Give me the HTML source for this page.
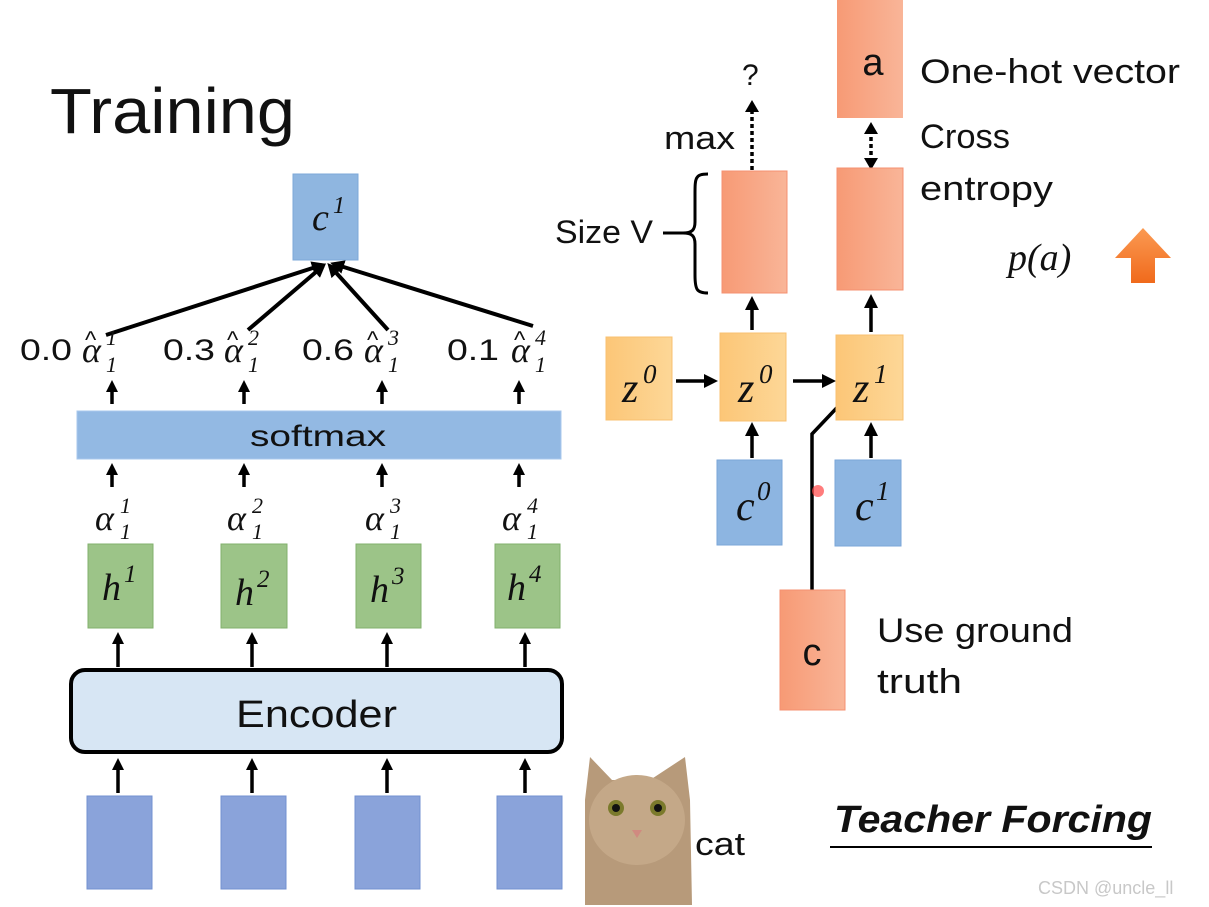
<!DOCTYPE html>
<html><head><meta charset="utf-8"><style>
html,body{margin:0;padding:0;background:#fff;}
svg{display:block;}
.s{font-family:"Liberation Sans",sans-serif;fill:#111;}
.m{font-family:"Liberation Serif",serif;font-style:italic;fill:#111;}
</style></head><body>
<svg width="1209" height="907" viewBox="0 0 1209 907" xmlns="http://www.w3.org/2000/svg">
<defs>
<marker id="ah" markerWidth="12" markerHeight="12" refX="8" refY="6" orient="auto" markerUnits="userSpaceOnUse"><path d="M0,0 L12,6 L0,12 z" fill="#000"/></marker>
<marker id="ab" markerWidth="14" markerHeight="14" refX="10" refY="7" orient="auto" markerUnits="userSpaceOnUse"><path d="M0,0 L14,7 L0,14 z" fill="#000"/></marker>
<linearGradient id="og" x1="0" x2="1"><stop offset="0" stop-color="#f79a75"/><stop offset="1" stop-color="#f9b598"/></linearGradient>
<linearGradient id="yg" x1="0" x2="1"><stop offset="0" stop-color="#fcc677"/><stop offset="1" stop-color="#fdd797"/></linearGradient>
<linearGradient id="ag" x1="0" y1="0" x2="0" y2="1"><stop offset="0" stop-color="#fb9a52"/><stop offset="1" stop-color="#f06a1c"/></linearGradient>
</defs>
<rect width="1209" height="907" fill="#fff"/>
<text x="50" y="133" class="s" font-size="64" textLength="245" lengthAdjust="spacingAndGlyphs">Training</text>

<rect x="293" y="174" width="65" height="86" fill="#8fb6e0" stroke="#7ea8d8"/>
<text x="312" y="230" class="m" font-size="38">c</text><text x="333" y="213" class="m" font-size="24">1</text>
<g stroke="#000" stroke-width="4" fill="none">
<line x1="106" y1="335" x2="322" y2="265" marker-end="url(#ab)"/>
<line x1="248" y1="330" x2="323" y2="266" marker-end="url(#ab)"/>
<line x1="388" y1="330" x2="330" y2="266" marker-end="url(#ab)"/>
<line x1="533" y1="326" x2="334" y2="264" marker-end="url(#ab)"/>
</g>
<g font-size="30">
<text x="20" y="360" class="s" textLength="52" lengthAdjust="spacingAndGlyphs">0.0</text><text x="163" y="360" class="s" textLength="52" lengthAdjust="spacingAndGlyphs">0.3</text><text x="302" y="360" class="s" textLength="52" lengthAdjust="spacingAndGlyphs">0.6</text><text x="447" y="360" class="s" textLength="52" lengthAdjust="spacingAndGlyphs">0.1</text>
</g>
<g class="m" font-size="36">
<text x="82" y="362">α</text><text x="224" y="362">α</text><text x="364" y="362">α</text><text x="511" y="362">α</text>
</g>
<g class="s" font-size="24">
<text x="85" y="348">^</text><text x="227" y="348">^</text><text x="367" y="348">^</text><text x="514" y="348">^</text>
</g>
<g class="m" font-size="22">
<text x="106" y="345">1</text><text x="106" y="372">1</text>
<text x="248" y="345">2</text><text x="248" y="372">1</text>
<text x="388" y="345">3</text><text x="388" y="372">1</text>
<text x="535" y="345">4</text><text x="535" y="372">1</text>
</g>
<g stroke="#000" stroke-width="3.5">
<line x1="112" y1="404" x2="112" y2="384" marker-end="url(#ah)"/>
<line x1="244" y1="404" x2="244" y2="384" marker-end="url(#ah)"/>
<line x1="382" y1="404" x2="382" y2="384" marker-end="url(#ah)"/>
<line x1="519" y1="404" x2="519" y2="384" marker-end="url(#ah)"/>
<line x1="112" y1="487" x2="112" y2="467" marker-end="url(#ah)"/>
<line x1="244" y1="487" x2="244" y2="467" marker-end="url(#ah)"/>
<line x1="382" y1="487" x2="382" y2="467" marker-end="url(#ah)"/>
<line x1="519" y1="487" x2="519" y2="467" marker-end="url(#ah)"/>
</g>
<rect x="77" y="411" width="484" height="48" fill="#93b9e3" stroke="#a8c8ec"/>
<text x="250" y="446" class="s" font-size="30" textLength="136" lengthAdjust="spacingAndGlyphs">softmax</text>

<g class="m" font-size="36">
<text x="95" y="530">α</text><text x="227" y="530">α</text><text x="365" y="530">α</text><text x="502" y="530">α</text>
</g>
<g class="m" font-size="22">
<text x="120" y="513">1</text><text x="120" y="539">1</text>
<text x="252" y="513">2</text><text x="252" y="539">1</text>
<text x="390" y="513">3</text><text x="390" y="539">1</text>
<text x="527" y="513">4</text><text x="527" y="539">1</text>
</g>
<g fill="#9cc488" stroke="#82b06c">
<rect x="88" y="544" width="65" height="84"/><rect x="221" y="544" width="66" height="84"/>
<rect x="356" y="544" width="65" height="84"/><rect x="495" y="544" width="65" height="84"/>
</g>
<g class="m" font-size="38">
<text x="102" y="600">h</text><text x="235" y="605">h</text><text x="370" y="602">h</text><text x="507" y="600">h</text>
</g>
<g class="m" font-size="25">
<text x="124" y="582">1</text><text x="257" y="587">2</text><text x="392" y="584">3</text><text x="529" y="582">4</text>
</g>
<g stroke="#000" stroke-width="3.5">
<line x1="118" y1="667" x2="118" y2="636" marker-end="url(#ah)"/>
<line x1="252" y1="667" x2="252" y2="636" marker-end="url(#ah)"/>
<line x1="387" y1="667" x2="387" y2="636" marker-end="url(#ah)"/>
<line x1="525" y1="667" x2="525" y2="636" marker-end="url(#ah)"/>
<line x1="118" y1="793" x2="118" y2="762" marker-end="url(#ah)"/>
<line x1="252" y1="793" x2="252" y2="762" marker-end="url(#ah)"/>
<line x1="387" y1="793" x2="387" y2="762" marker-end="url(#ah)"/>
<line x1="525" y1="793" x2="525" y2="762" marker-end="url(#ah)"/>
</g>
<rect x="71" y="670" width="491" height="82" rx="14" fill="#d7e6f4" stroke="#000" stroke-width="4"/>
<text x="236" y="727" class="s" font-size="38" textLength="161" lengthAdjust="spacingAndGlyphs">Encoder</text>
<g fill="#8aa3da" stroke="#7390d0">
<rect x="87" y="796" width="65" height="93"/><rect x="221" y="796" width="65" height="93"/>
<rect x="355" y="796" width="65" height="93"/><rect x="497" y="796" width="65" height="93"/>
</g>
<path d="M585,905 L585,800 L590,757 L612,780 L650,780 L685,757 L690,800 L692,905 z" fill="#b79a7a"/>
<ellipse cx="637" cy="820" rx="48" ry="45" fill="#c4a888"/>
<circle cx="616" cy="808" r="8" fill="#7b7a2c"/><circle cx="658" cy="808" r="8" fill="#7b7a2c"/>
<circle cx="616" cy="808" r="4" fill="#111"/><circle cx="658" cy="808" r="4" fill="#111"/>
<path d="M632,830 L642,830 L637,838 z" fill="#d08a80"/>
<text x="695" y="855" class="s" font-size="32" textLength="50" lengthAdjust="spacingAndGlyphs">cat</text>

<text x="742" y="85" class="s" font-size="30">?</text>
<text x="664" y="149" class="s" font-size="32" textLength="71" lengthAdjust="spacingAndGlyphs">max</text>
<line x1="752" y1="170" x2="752" y2="110" stroke="#000" stroke-width="3.5" stroke-dasharray="4,3"/>
<path d="M745,112 L752,100 L759,112 z" fill="#000"/>
<rect x="837" y="0" width="66" height="118" fill="url(#og)"/>
<text x="873" y="75" class="s" font-size="38" text-anchor="middle">a</text>
<text x="920" y="83" class="s" font-size="34" textLength="260" lengthAdjust="spacingAndGlyphs">One-hot vector</text>
<text x="920" y="148" class="s" font-size="34" textLength="90" lengthAdjust="spacingAndGlyphs">Cross</text>
<text x="920" y="200" class="s" font-size="34" textLength="133" lengthAdjust="spacingAndGlyphs">entropy</text>
<line x1="871" y1="130" x2="871" y2="160" stroke="#000" stroke-width="3.5" stroke-dasharray="4,3"/>
<path d="M864,134 L871,122 L878,134 z M864,158 L871,170 L878,158 z" fill="#000"/>
<rect x="722" y="171" width="65" height="122" fill="url(#og)" stroke="#f59070"/>
<rect x="837" y="168" width="66" height="122" fill="url(#og)" stroke="#f59070"/>
<path d="M708,174 C695,174 695,178 695,195 L695,222 C695,230 692,233 683,233 C692,233 695,236 695,244 L695,275 C695,290 697,293 708,293" fill="none" stroke="#000" stroke-width="3"/>
<line x1="663" y1="233" x2="684" y2="233" stroke="#000" stroke-width="3"/>
<text x="555" y="243" class="s" font-size="32" textLength="98" lengthAdjust="spacingAndGlyphs">Size V</text>
<text x="1008" y="270" class="m" font-size="38">p(a)</text>
<path d="M1131,283 L1131,258 L1115,258 L1143,228 L1171,258 L1155,258 L1155,283 z" fill="url(#ag)"/>

<g stroke="#000" stroke-width="3.5">
<line x1="752" y1="330" x2="752" y2="300" marker-end="url(#ab)"/>
<line x1="871" y1="332" x2="871" y2="298" marker-end="url(#ab)"/>
<line x1="676" y1="381" x2="714" y2="381" marker-end="url(#ab)"/>
<line x1="793" y1="381" x2="832" y2="381" marker-end="url(#ab)"/>
<line x1="752" y1="458" x2="752" y2="426" marker-end="url(#ab)"/>
<line x1="871" y1="458" x2="871" y2="426" marker-end="url(#ab)"/>
<polyline points="812,590 812,434 848,396" fill="none" marker-end="url(#ab)"/>
</g>
<g fill="url(#yg)" stroke="#f8c070">
<rect x="606" y="337" width="66" height="83"/><rect x="720" y="333" width="66" height="88"/><rect x="836" y="335" width="67" height="85"/>
</g>
<text x="622" y="402" class="m" font-size="42">z</text><text x="643" y="383" class="m" font-size="27">0</text>
<text x="738" y="402" class="m" font-size="42">z</text><text x="759" y="383" class="m" font-size="27">0</text>
<text x="853" y="402" class="m" font-size="42">z</text><text x="874" y="383" class="m" font-size="27">1</text>
<g fill="#8db5e1" stroke="#7aa6d8">
<rect x="717" y="460" width="65" height="85"/><rect x="835" y="460" width="66" height="86"/>
</g>
<text x="736" y="520" class="m" font-size="42">c</text><text x="757" y="500" class="m" font-size="27">0</text>
<text x="855" y="520" class="m" font-size="42">c</text><text x="876" y="500" class="m" font-size="27">1</text>
<circle cx="818" cy="491" r="6" fill="#f44" opacity="0.7"/>
<rect x="780" y="590" width="65" height="120" fill="url(#og)" stroke="#f59070"/>
<text x="812" y="665" class="s" font-size="38" text-anchor="middle">c</text>
<text x="877" y="642" class="s" font-size="34" textLength="196" lengthAdjust="spacingAndGlyphs">Use ground</text>
<text x="877" y="693" class="s" font-size="34" textLength="85" lengthAdjust="spacingAndGlyphs">truth</text>
<text x="834" y="832" class="s" font-size="38" font-weight="bold" font-style="italic" textLength="318" lengthAdjust="spacingAndGlyphs">Teacher Forcing</text>
<line x1="830" y1="847" x2="1152" y2="847" stroke="#000" stroke-width="2"/>
<text x="1038" y="894" font-family="Liberation Sans,sans-serif" font-size="18" fill="#c8c8c8">CSDN @uncle_ll</text>
</svg>
</body></html>
